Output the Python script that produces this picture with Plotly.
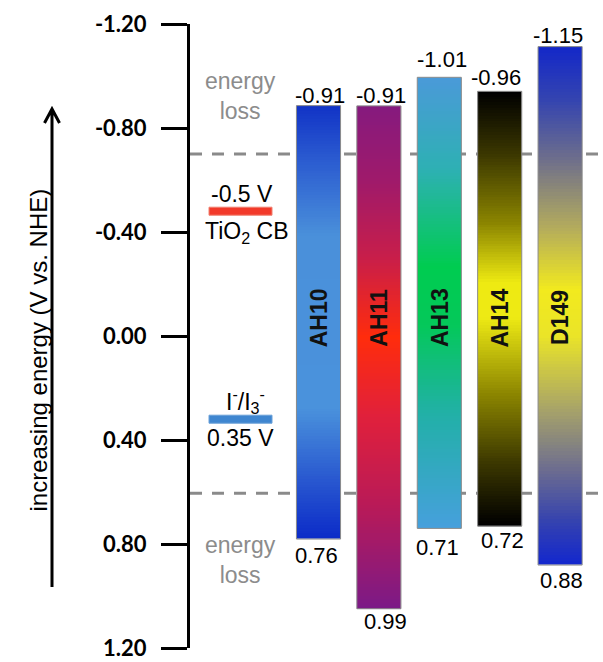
import numpy as np
import plotly.graph_objects as go

# ---------------- data ----------------
dyes = ["AH10", "AH11", "AH13", "AH14", "D149"]
lumo_labels = ["-0.91", "-0.91", "-1.01", "-0.96", "-1.15"]
homo_labels = ["0.76", "0.99", "0.71", "0.72", "0.88"]
bar_tops = [-0.886, -0.885, -0.995, -0.941, -1.113]      # drawn LUMO level (V vs NHE)
bar_bottoms = [0.781, 1.049, 0.740, 0.731, 0.881]        # drawn HOMO level (V vs NHE)
tio2_cb = -0.48            # drawn TiO2 CB level
redox_level = 0.32         # drawn I-/I3- level
loss_lines = [-0.70, 0.605]  # dashed energy-loss limits
y_ticks = [-1.2, -0.8, -0.4, 0.0, 0.4, 0.8, 1.2]
y_ticktext = ["-1.20", "-0.80", "-0.40", "0.00", "0.40", "0.80", "1.20"]

# ---------------- styling ----------------
gradients = {
    "AH10": [[0, "#1234c6"], [0.12, "#2a5ad0"], [0.3, "#4a90da"], [0.7, "#4a92dc"],
             [0.86, "#2a5ad0"], [1, "#0c2cc8"]],
    "AH11": [[0, "#861a7e"], [0.15, "#a01a6a"], [0.3, "#c81e4a"], [0.46, "#ff2c0c"],
             [0.62, "#e0203c"], [0.8, "#b81a58"], [1, "#7c1a86"]],
    "AH13": [[0, "#4a9ad8"], [0.2, "#2eb0b4"], [0.42, "#00cc50"], [0.55, "#04c85a"],
             [0.75, "#22b0a8"], [1, "#46a0dc"]],
    "AH14": [[0, "#000000"], [0.14, "#3a3600"], [0.3, "#8a8400"], [0.44, "#eeea12"],
             [0.52, "#eeea14"], [0.7, "#8a8400"], [0.86, "#3a3600"], [1, "#000000"]],
    "D149": [[0, "#1428c8"], [0.1, "#3444b0"], [0.22, "#70708a"], [0.35, "#b4ac5c"],
             [0.47, "#f2ea1e"], [0.56, "#eae428"], [0.7, "#a8a468"], [0.82, "#6c6c90"],
             [0.92, "#3442b0"], [1, "#1428cc"]],
}
top_shift = [(1.5, 10.5), (2.1, 10.5), (2.4, 17.5), (-3.7, 14), (-2.1, 11)]
bot_shift = [(-2.5, -16), (6.1, -12.5), (-2.3, -19.4), (3.0, -14), (0.9, -15)]

W, H = 603, 662
ML, MR, MT, MB = 190, 0, 24, 14
PX_PER_UNIT = 60.4
X0_PX = 318.5
x_lo = -(X0_PX - ML) / PX_PER_UNIT
x_hi = 4 + (W - MR - (X0_PX + 4 * PX_PER_UNIT)) / PX_PER_UNIT
bar_w = 0.73


def px2x(px):
    return (px - X0_PX) / PX_PER_UNIT


def px2y(py):
    return (py - MT) / (H - MT - MB) * 2.4 - 1.2


def px2paperx(px):
    return (px - ML) / (W - ML - MR)


FONT = "Liberation Sans, Arial, sans-serif"
fig = go.Figure()

idx = list(range(len(dyes)))
n = 160
for i, name in enumerate(dyes):
    edges = np.linspace(bar_tops[i], bar_bottoms[i], n + 1)
    z = [[k / (n - 1)] for k in range(n)]
    fig.add_trace(go.Heatmap(
        x=[i - bar_w / 2, i + bar_w / 2], y=edges, z=z,
        colorscale=gradients[name], zmin=0, zmax=1, showscale=False,
        hoverinfo="skip", zsmooth=False))

fig.add_trace(go.Bar(
    x=idx, base=bar_tops, y=[b - t for t, b in zip(bar_tops, bar_bottoms)],
    width=bar_w, marker=dict(color="rgba(0,0,0,0)", line=dict(color="#8a8a8a", width=1)),
    hoverinfo="skip", showlegend=False))

# dashed energy loss lines
for yl in loss_lines:
    fig.add_shape(type="line", xref="paper", yref="y", x0=0, x1=1, y0=yl, y1=yl,
                  line=dict(color="#8a8a8a", width=3, dash="12px,10px"), layer="below")

# level markers
hh = 4 / (H - MT - MB) * 2.4
fig.add_shape(type="rect", xref="x", yref="y", x0=px2x(209), x1=px2x(272),
              y0=tio2_cb - hh, y1=tio2_cb + hh, fillcolor="#f23a2a",
              line=dict(color="#f08070", width=1))
fig.add_shape(type="rect", xref="x", yref="y", x0=px2x(209), x1=px2x(272),
              y0=redox_level - hh, y1=redox_level + hh, fillcolor="#3f86d0",
              line=dict(color="#6aa0d8", width=1))

# arrow
ax_ = px2paperx(52)
fig.add_shape(type="path", xref="paper", yref="y",
              path=f"M {ax_},{px2y(587)} L {ax_},{px2y(109)} "
                   f"M {px2paperx(44.5)},{px2y(123)} L {ax_},{px2y(109)} L {px2paperx(59.5)},{px2y(123)}",
              line=dict(color="black", width=3))

ann = []
for i, name in enumerate(dyes):
    ann.append(dict(x=i, y=-0.07, text=f"<b>{name}</b>", textangle=-90, showarrow=False,
                    font=dict(family=FONT, size=23, color="#111111")))
    ann.append(dict(x=i, y=bar_tops[i], text=lumo_labels[i], showarrow=False,
                    xshift=top_shift[i][0], yshift=top_shift[i][1], yanchor="middle",
                    font=dict(family=FONT, size=22, color="black")))
    ann.append(dict(x=i, y=bar_bottoms[i], text=homo_labels[i], showarrow=False,
                    xshift=bot_shift[i][0], yshift=bot_shift[i][1], yanchor="middle",
                    font=dict(family=FONT, size=22, color="black")))

gray = "#8c8c8c"
ann += [
    dict(x=px2x(240), y=px2y(95.5), text="energy<br>loss", showarrow=False,
         font=dict(family=FONT, size=23, color=gray)),
    dict(x=px2x(240), y=px2y(559.5), text="energy<br>loss", showarrow=False,
         font=dict(family=FONT, size=23, color=gray)),
    dict(x=px2x(241.5), y=px2y(194), text="-0.5 V", showarrow=False,
         font=dict(family=FONT, size=23, color="black")),
    dict(x=px2x(247), y=px2y(232), text="TiO<sub>2</sub> CB", showarrow=False,
         font=dict(family=FONT, size=23, color="black")),
    dict(x=px2x(245), y=px2y(401), text="I<sup>-</sup>/I<sub>3</sub><sup>-</sup>", showarrow=False,
         font=dict(family=FONT, size=23, color="black")),
    dict(x=px2x(240), y=px2y(438), text="0.35 V", showarrow=False,
         font=dict(family=FONT, size=23, color="black")),
    dict(xref="paper", yref="y", x=px2paperx(22), y=px2y(350),
         text="increasing energy (V vs. NHE)", textangle=-90, showarrow=False,
         font=dict(family=FONT, size=24, color="black")),
]

fig.update_layout(
    width=W, height=H, margin=dict(l=ML, r=MR, t=MT, b=MB, pad=0),
    paper_bgcolor="white", plot_bgcolor="white", showlegend=False,
    annotations=ann,
    xaxis=dict(range=[x_lo, x_hi], visible=False, fixedrange=True),
    yaxis=dict(range=[1.2, -1.2], tickvals=y_ticks, ticktext=y_ticktext,
               showgrid=False, zeroline=False, showline=True, linewidth=3,
               linecolor="black", ticks="outside", ticklen=26, tickwidth=3,
               tickcolor="black", ticklabelstandoff=10,
               tickfont=dict(family="Lato", size=22, color="black", weight="bold")),
)

fig.write_html("out.html")
